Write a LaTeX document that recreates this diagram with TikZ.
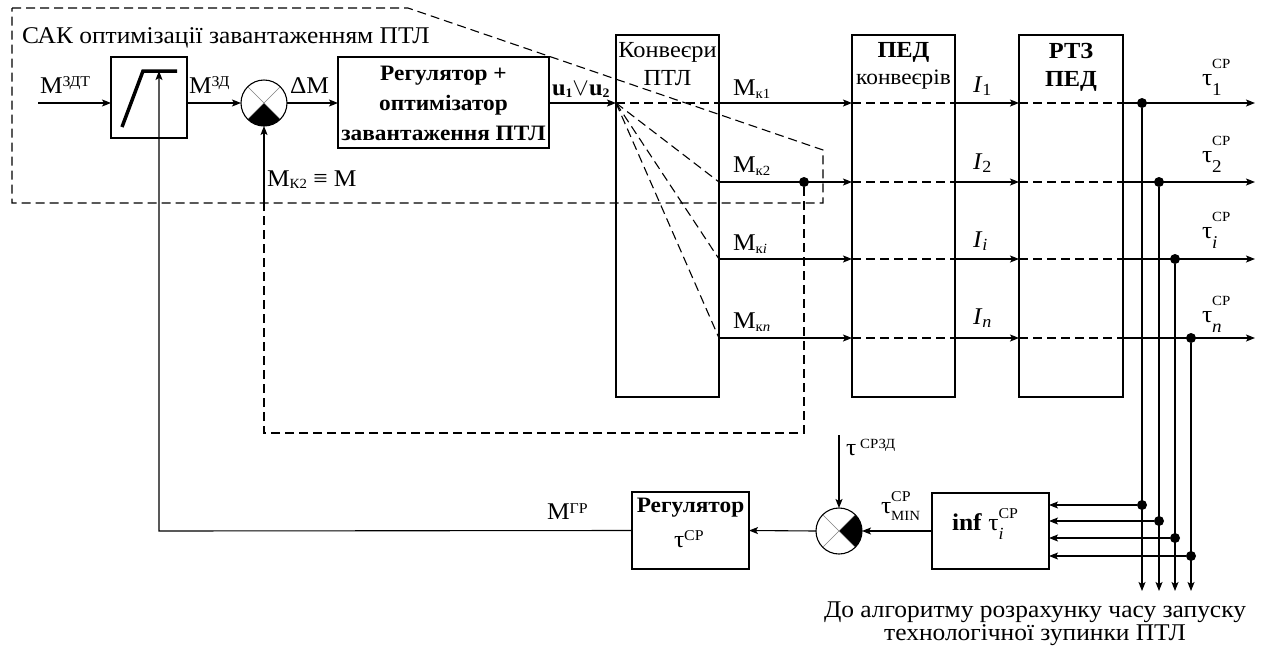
\documentclass[tikz,border=0pt]{standalone}
\usepackage{amsmath}
\usepackage{fontspec}
\setmainfont[FakeStretch=1.06]{Liberation Serif}
\usetikzlibrary{arrows.meta}
\newcommand\fs[1]{\fontsize{#1}{#1}\selectfont}
\begin{document}
\begin{tikzpicture}[x=1pt,y=-1pt,
  every node/.style={inner sep=0pt,outer sep=0pt},
  fnt/.style={font=\fontsize{24}{24}\selectfont},
  ln/.style={line width=1.1pt},
  arr/.style={ln,-{Stealth[length=9pt,width=7pt,inset=2pt]}},
  dsh/.style={ln,dash pattern=on 9pt off 5pt},
  box/.style={draw,ln},
  sumc/.style={draw,ln,circle,minimum size=46pt},
  dot/.style={circle,fill,minimum size=10pt},
  lab/.style={fnt,anchor=base west},
  boxtxt/.style={font=\bfseries\fontsize{22}{30}\selectfont,align=center},
  small/.style={font=\fontsize{23}{23}\selectfont},
]
\useasboundingbox[fill=white] (0,0) rectangle (1267,651);

% outer dashed group
\coordinate (g1) at (12,8);
\coordinate (g2) at (408,8);
\coordinate (g3) at (823,150);
\coordinate (g4) at (823,203);
\coordinate (g5) at (12,203);
\draw[dsh] (g1) -- (g2) -- (g3) -- (g4) -- (g5) -- cycle;
\node[lab] (sak) at (22,43) {САК оптимізації завантаженням ПТЛ};

% limiter
\node[box,minimum width=76pt,minimum height=81pt] (lim) at (149,97.5) {};
\coordinate (c1) at (122,127);
\coordinate (c2) at (143,71);
\coordinate (c3) at (177,71);
\draw[line width=3.5pt] (c1) -- (c2) -- (c3);
\coordinate (in) at (38,103);
\draw[arr] (in) -- (lim.west|-in);
\node[lab] (mzdt) at (40,93) {М\raisebox{7pt}{\fs{15}ЗДТ}};

% sum 1
\node[sumc] (s1) at (264,103) {};
\fill (s1.-135) arc[start angle=135,end angle=45,radius=23] -- (s1.center) -- cycle;
\draw[gray,line width=0.6pt] (s1.45) -- (s1.-135) (s1.135) -- (s1.-45);
\draw[arr] (lim.east|-s1) -- (s1.west);
\node[lab] (mzd) at (189,93) {М\raisebox{7pt}{\fs{15}ЗД}};
\node[lab] (dM) at (290,93) {ΔМ};

% regulator + optimizer
\node[box,minimum width=211pt,minimum height=91pt] (reg) at (443.5,102.5) {};
\node[boxtxt] (regtxt) at (443.5,103) {Регулятор +\\оптимізатор\\завантаження ПТЛ};
\draw[arr] (s1.east) -- (reg.west|-s1);

% feedback
\coordinate (fb1) at (804,433);
\coordinate (fb2) at (264,433);
\coordinate (fb3) at (264,203);
\node[dot] (dk) at (804,182) {};
\draw[dsh] (dk) -- (fb1) -- (fb2) -- (fb3);
\draw[arr] (fb3) -- (s1.south);
\node[lab] (mk2eq) at (267,186) {М\raisebox{-2pt}{\fs{14}К2} ≡ М};

% conveyors
\node[box,minimum width=103pt,minimum height=362pt] (conv) at (667.5,216) {};
\node[small] (convA) at (667.5,52) {Конвеєри};
\node[small] (convB) at (667.5,78) {ПТЛ};
\coordinate (cin) at (conv.west|-s1);
\draw[arr] (reg.east|-s1) -- (cin);
\node[lab,font=\bfseries\fontsize{23}{23}\selectfont] (u12) at (552,95) {u\raisebox{-2pt}{\fs{13}1}$\vee$u\raisebox{-2pt}{\fs{13}2}};

% motors
\node[box,minimum width=103pt,minimum height=362pt] (ped) at (903.5,216) {};
\node[font=\bfseries\fontsize{23}{23}\selectfont] (pedA) at (903.5,52) {ПЕД};
\node[font=\fontsize{22}{22}\selectfont] (pedB) at (903.5,80) {конвеєрів};
\node[box,minimum width=104pt,minimum height=362pt] (rtz) at (1071,216) {};
\node[font=\bfseries\fontsize{23}{23}\selectfont] (rtzA) at (1071,51) {РТЗ};
\node[font=\bfseries\fontsize{23}{23}\selectfont] (rtzB) at (1071,81) {ПЕД};

% rows
\foreach \i/\y in {1/103,2/182,3/259,4/338}{
  \coordinate (r\i) at (0,\y);
  \coordinate (o\i) at (1255,\y);
  \draw[dsh] (cin) -- (conv.east|-r\i);
  \draw[arr] (conv.east|-r\i) -- (ped.west|-r\i);
  \draw[dsh] (ped.west|-r\i) -- (ped.east|-r\i);
  \draw[arr] (ped.east|-r\i) -- (rtz.west|-r\i);
  \draw[dsh] (rtz.west|-r\i) -- (rtz.east|-r\i);
  \draw[arr] (rtz.east|-r\i) -- (o\i);
}

% inf block and bottom loop
\node[box,minimum width=117pt,minimum height=76pt] (inf) at (990.5,531) {};
\node[lab,font=\fontsize{24}{24}\selectfont] (inftxt) at (952,530) {\textbf{inf} τ\rlap{\raisebox{12pt}{\fs{15}СР}}\raisebox{-9pt}{\fs{17}\textit{i}}};

\foreach \i/\y/\xd/\yb in {1/103/1142/505,2/182/1159/521,3/259/1175/538,4/338/1191/556}{
  \node[dot] (d\i) at (\xd,\y) {};
  \node[dot] (b\i) at (\xd,\yb) {};
  \coordinate (e\i) at (\xd,591);
  \draw[arr] (d\i) -- (e\i);
  \draw[arr] (b\i) -- (inf.east|-b\i);
}

% row labels
\node[lab] (mk1) at (733,95) {М\raisebox{-3pt}{\fs{14}к1}};
\node[lab] (mk2) at (733,172) {М\raisebox{-3pt}{\fs{14}к2}};
\node[lab] (mk3) at (733,250) {М\raisebox{-3pt}{\fs{14}к\textit{i}}};
\node[lab] (mk4) at (733,328) {М\raisebox{-3pt}{\fs{14}к\textit{n}}};
\node[lab] (i1) at (973,92) {\textit{I}\raisebox{-3pt}{\fs{17}1}};
\node[lab] (i2) at (973,169) {\textit{I}\raisebox{-3pt}{\fs{17}2}};
\node[lab] (i3) at (973,247) {\textit{I}\raisebox{-3pt}{\fs{17}\textit{i}}};
\node[lab] (i4) at (973,324) {\textit{I}\raisebox{-3pt}{\fs{17}\textit{n}}};
\node[lab] (t1) at (1202,85) {τ\rlap{\raisebox{17pt}{\fs{14}СР}}\raisebox{-10pt}{\fs{18}1}};
\node[lab] (t2) at (1202,162) {τ\rlap{\raisebox{17pt}{\fs{14}СР}}\raisebox{-10pt}{\fs{18}2}};
\node[lab] (t3) at (1202,238) {τ\rlap{\raisebox{17pt}{\fs{14}СР}}\raisebox{-10pt}{\fs{18}\textit{i}}};
\node[lab] (t4) at (1202,322) {τ\rlap{\raisebox{17pt}{\fs{14}СР}}\raisebox{-10pt}{\fs{18}\textit{n}}};

% sum 2
\node[sumc] (s2) at (839,531) {};
\fill (s2.45) arc[start angle=-45,end angle=45,radius=23] -- (s2.center) -- cycle;
\draw[gray,line width=0.6pt] (s2.45) -- (s2.-135) (s2.135) -- (s2.-45);
\coordinate (tz) at (839,435);
\draw[arr] (tz) -- (s2.north);
\node[lab] (tzd) at (846,455) {τ\,\raisebox{7pt}{\fs{14}СРЗД}};
\draw[arr] (inf.west) -- (s2.east);
\node[lab] (tmin) at (881,513) {τ\rlap{\raisebox{12pt}{\fs{15}СР}}\raisebox{-7pt}{\fs{14}MIN}};

% regulator tau
\node[box,minimum width=117pt,minimum height=77pt] (regt) at (690.5,530.5) {};
\node[font=\bfseries\fontsize{22}{22}\selectfont] (regtA) at (690.5,508) {Регулятор};
\node[lab] (regtB) at (674,547) {τ\raisebox{7pt}{\fs{15}СР}};
\draw[arr] (s2.west) -- (regt.east);

% M GR path
\coordinate (m1) at (159,531);
\coordinate (m2) at (159,71);
\draw[arr] (regt.west) -- (m1) -- (m2);
\node[lab] (mgr) at (547,519) {М\raisebox{6pt}{\fs{15}ГР}};

% bottom text
\node[fnt,anchor=base] (bt1) at (1035,617) {До алгоритму розрахунку часу запуску};
\node[fnt,anchor=base] (bt2) at (1035,640) {технологічної зупинки ПТЛ};
\end{tikzpicture}
\end{document}
